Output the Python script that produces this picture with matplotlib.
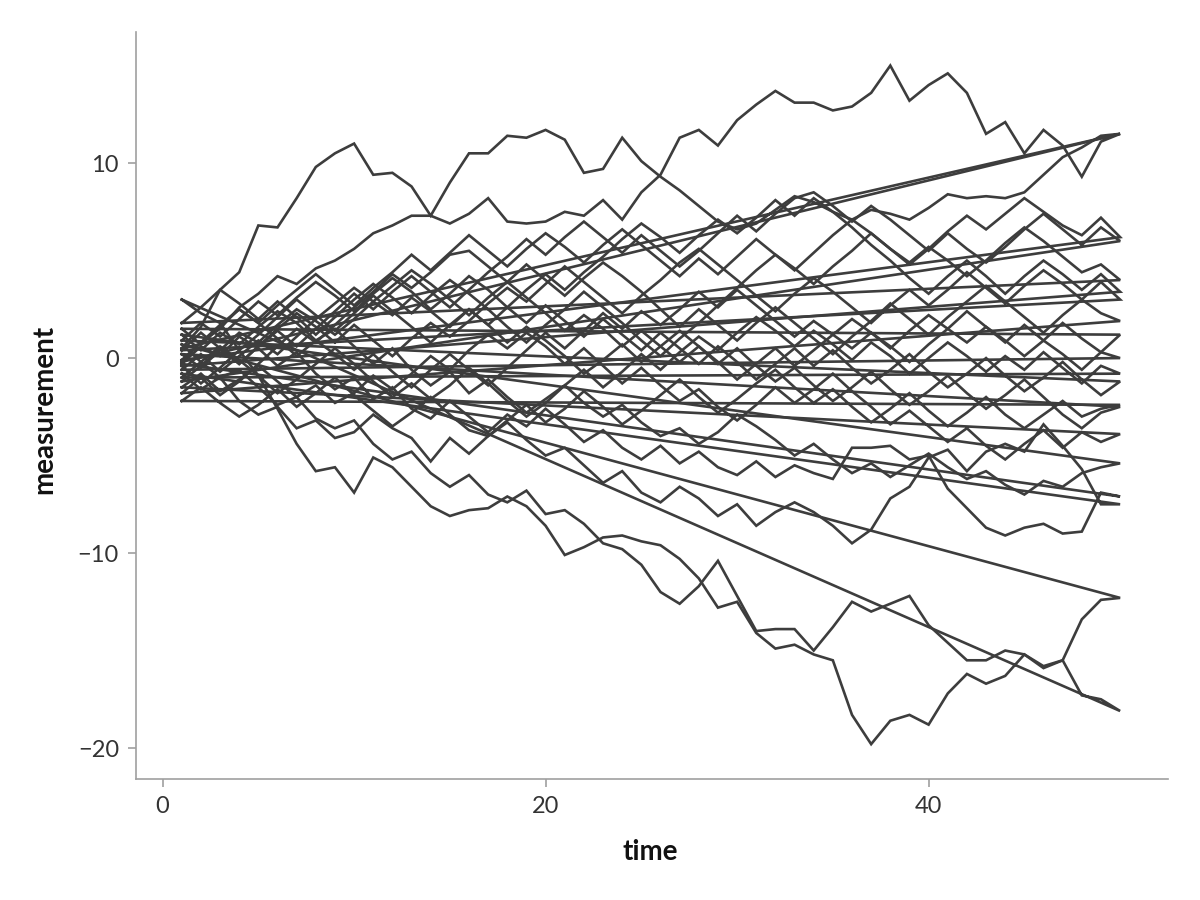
import numpy as np
import matplotlib
matplotlib.use("Agg")
import matplotlib.pyplot as plt

time = np.arange(1, 51)

# one list per walk (t = 1..50)
walk_a = [0.5, 1.6, 3.5, 4.4, 6.8, 6.7, 8.2, 9.8, 10.5, 11.0,
          9.4, 9.5, 8.8, 7.3, 9.0, 10.5, 10.5, 11.4, 11.3, 11.7,
          11.2, 9.5, 9.7, 11.3, 10.1, 9.3, 8.6, 7.8, 7.0, 6.6,
          6.9, 7.6, 8.3, 8.0, 7.5, 7.1, 7.6, 7.4, 7.1, 7.7,
          8.4, 8.2, 8.3, 8.2, 8.5, 9.4, 10.3, 10.8, 11.4, 11.5]
walk_b = [-0.2, 0.8, 1.5, 2.6, 3.3, 4.2, 3.8, 4.6, 5.0, 5.6,
          6.4, 6.8, 7.3, 7.3, 6.9, 7.4, 8.2, 7.0, 6.9, 7.0,
          7.5, 7.3, 8.1, 7.1, 8.5, 9.4, 11.3, 11.7, 10.9, 12.2,
          13.0, 13.7, 13.1, 13.1, 12.7, 12.9, 13.6, 15.0, 13.2, 14.0,
          14.6, 13.6, 11.5, 12.1, 10.5, 11.7, 10.9, 9.3, 11.1, 11.5]
walk_c = [3.0, 2.3, 1.8, 0.4, -0.9, -2.6, -4.4, -5.8, -5.6, -6.9,
          -5.1, -5.6, -6.6, -7.6, -8.1, -7.8, -7.7, -7.1, -7.6, -8.6,
          -10.1, -9.7, -9.2, -9.1, -9.4, -9.6, -10.3, -11.3, -12.8, -12.5,
          -14.1, -14.9, -14.7, -15.2, -15.5, -18.3, -19.8, -18.6, -18.3, -18.8,
          -17.2, -16.2, -16.7, -16.3, -15.2, -15.8, -15.5, -17.3, -17.5, -18.1]
walk_d = [0.7, -0.2, -1.0, -0.6, -1.5, -2.4, -2.0, -3.1, -3.6, -3.2,
          -4.4, -5.2, -4.8, -5.9, -6.6, -6.0, -7.0, -7.4, -6.8, -8.0,
          -7.8, -8.5, -9.5, -9.8, -10.6, -12.0, -12.6, -11.7, -10.4, -12.2,
          -14.0, -13.9, -13.9, -15.0, -13.8, -12.5, -13.0, -12.6, -12.2, -13.7,
          -14.6, -15.5, -15.5, -15.0, -15.2, -15.9, -15.5, -13.4, -12.4, -12.3]
walk_e = [-0.8, -1.6, -1.0, -2.2, -2.9, -2.5, -3.6, -3.2, -4.1, -3.8,
          -2.9, -3.6, -4.1, -5.3, -4.1, -4.9, -4.0, -3.3, -4.2, -5.0,
          -4.6, -5.5, -6.4, -5.8, -6.9, -7.4, -6.6, -7.2, -8.1, -7.5,
          -8.6, -7.9, -7.4, -7.9, -8.6, -9.5, -8.8, -7.2, -6.6, -5.1,
          -4.7, -5.8, -4.8, -4.4, -4.8, -3.4, -4.5, -5.7, -7.5, -7.5]
walk_f = [-0.3, 0.6, 0.1, 1.1, 0.5, -0.4, 0.3, -0.8, -1.6, -1.0,
          -2.1, -1.5, -2.6, -3.1, -2.2, -3.0, -3.8, -2.9, -3.5, -2.6,
          -3.4, -4.3, -3.7, -4.6, -5.2, -4.5, -5.4, -4.8, -5.6, -6.0,
          -5.3, -6.1, -5.5, -5.9, -6.2, -4.6, -4.6, -4.5, -5.2, -5.0,
          -6.7, -7.7, -8.7, -9.1, -8.7, -8.5, -9.0, -8.9, -6.9, -7.1]
walk_g = [1.2, 0.4, 1.3, 0.7, 1.6, 2.4, 1.8, 0.9, 1.5, 0.6,
          -0.3, 0.5, -0.6, -1.4, -0.7, -1.8, -1.1, -2.0, -2.8, -2.1,
          -1.4, -2.3, -3.0, -2.4, -3.3, -4.0, -3.6, -4.4, -3.8, -2.9,
          -3.5, -4.2, -5.0, -4.4, -5.2, -5.9, -5.4, -6.1, -5.5, -4.9,
          -5.6, -6.2, -5.8, -6.5, -7.0, -6.3, -6.6, -5.9, -5.6, -5.4]
walk_h = [-1.5, -0.8, -1.7, -1.1, -0.4, -1.2, -2.0, -1.4, -2.3, -1.8,
          -0.9, -1.6, -0.8, 0.1, -0.6, 0.4, 1.2, 0.5, 1.3, 0.6,
          -0.3, 0.5, -0.4, -1.3, -0.5, -1.4, -2.2, -1.6, -2.5, -3.2,
          -2.4, -1.5, -2.3, -1.6, -0.8, -1.7, -2.5, -3.4, -2.7, -3.5,
          -4.3, -3.6, -4.5, -5.2, -4.4, -3.7, -4.6, -3.8, -4.3, -3.9]
walk_i = [0.2, -0.5, 0.4, 1.3, 0.8, 1.7, 2.5, 1.9, 1.2, 2.0,
          2.9, 2.2, 3.1, 2.4, 1.6, 2.5, 1.7, 0.8, 1.6, 0.9,
          0.1, -0.8, -0.1, 0.7, -0.2, 0.6, 1.4, 0.6, -0.3, 0.5,
          -0.4, -1.2, -0.5, -1.4, -2.2, -1.5, -0.7, -1.6, -2.4, -1.7,
          -0.9, -1.8, -2.6, -1.9, -1.1, -2.0, -2.9, -3.6, -2.8, -2.5]
walk_j = [-2.2, -1.5, -2.3, -3.0, -2.4, -1.6, -2.5, -1.8, -1.0, -1.9,
          -2.7, -3.5, -2.8, -2.0, -2.9, -3.7, -4.0, -3.2, -2.4, -3.3,
          -2.6, -1.7, -2.5, -3.4, -2.7, -1.9, -1.1, -2.0, -2.8, -2.1,
          -1.3, -0.6, -1.5, -2.3, -1.6, -2.5, -3.3, -2.6, -1.8, -2.7,
          -3.5, -2.8, -2.0, -2.9, -3.6, -2.9, -2.2, -3.0, -2.6, -2.4]
walk_k = [0.9, 1.8, 1.1, 2.0, 2.9, 2.2, 3.1, 3.9, 3.2, 2.4,
          3.3, 4.1, 3.4, 2.5, 3.3, 4.2, 3.5, 2.6, 1.8, 2.7,
          1.9, 1.1, 2.0, 1.2, 0.4, 1.3, 0.5, -0.3, 0.6, -0.2,
          -1.1, -0.3, 0.5, -0.4, 0.4, -0.5, -1.3, -0.6, 0.2, -0.7,
          -1.5, -0.8, 0.0, -0.9, -1.7, -1.0, -0.2, -1.1, -1.9, -1.2]
walk_l = [-1.0, -0.2, 0.6, -0.1, -0.9, -1.8, -1.1, -0.3, 0.5, -0.3,
          -1.2, -2.0, -1.3, -2.1, -1.4, -0.5, -1.3, -2.2, -3.0, -2.3,
          -1.4, -0.6, -1.5, -0.7, 0.2, -0.6, 0.3, 1.1, 0.4, 1.3,
          2.1, 1.4, 0.6, 1.4, 0.7, -0.1, 0.8, 0.1, -0.8, 0.0,
          0.8, 0.1, -0.7, 0.1, -0.6, 0.3, -0.5, -1.3, -0.4, -0.8]
walk_m = [-0.6, 0.2, -0.7, 0.1, 0.9, 0.2, 1.1, 2.0, 2.8, 3.6,
          2.9, 3.7, 4.5, 3.8, 3.0, 2.2, 3.1, 3.9, 3.1, 2.3,
          1.4, 2.2, 1.5, 0.6, 1.4, 0.6, -0.2, 0.6, -0.2, -1.1,
          -0.3, 0.5, -0.4, 0.4, 1.2, 0.5, 1.3, 0.6, -0.2, 0.7,
          1.5, 0.8, 1.6, 0.9, 0.1, 0.9, 0.2, -0.6, 0.3, 0.0]
walk_n = [1.5, 0.7, 1.6, 2.5, 1.8, 1.0, 0.1, 0.9, 0.2, -0.6,
          0.2, -0.7, -1.5, -0.6, 0.2, -0.6, -1.4, -0.5, 0.4, 1.3,
          0.5, 1.4, 2.3, 1.5, 2.4, 1.7, 2.5, 3.4, 2.6, 3.5,
          2.7, 1.9, 1.1, 1.9, 1.2, 2.0, 1.3, 0.5, 1.4, 2.2,
          1.5, 2.4, 1.6, 0.8, 1.7, 0.9, 1.8, 1.0, 0.3, 1.2]
walk_o = [-1.8, -1.0, -1.9, -1.2, -0.3, 0.6, 1.5, 0.8, 1.7, 2.6,
          3.4, 4.3, 3.6, 4.4, 5.3, 5.5, 4.7, 3.9, 4.8, 4.0,
          3.2, 4.1, 4.9, 4.2, 3.4, 2.5, 1.6, 2.5, 1.7, 0.9,
          1.8, 2.6, 1.8, 1.0, 0.2, 1.1, 1.9, 2.8, 2.0, 1.2,
          2.1, 2.9, 3.7, 2.9, 2.1, 1.3, 2.2, 3.0, 2.3, 1.9]
walk_p = [0.4, 1.3, 0.5, -0.3, 0.6, 1.5, 2.3, 1.6, 0.8, 1.7,
          0.9, 0.1, 1.0, 1.8, 1.1, 1.9, 2.8, 3.6, 2.9, 3.8,
          4.7, 3.9, 3.1, 2.3, 3.2, 4.0, 4.9, 5.6, 4.8, 4.0,
          3.2, 2.4, 3.3, 4.1, 3.4, 2.6, 1.8, 2.7, 3.5, 2.7,
          3.5, 4.4, 3.6, 2.8, 3.7, 4.5, 3.8, 3.0, 3.9, 3.0]
walk_q = [-0.4, -1.3, -0.5, 0.4, 1.2, 2.1, 3.0, 2.2, 1.4, 2.3,
          3.2, 2.4, 1.6, 0.8, 1.7, 2.5, 1.7, 2.6, 3.5, 4.3,
          3.5, 4.4, 5.2, 6.1, 6.9, 6.2, 5.4, 6.3, 7.1, 6.4,
          7.2, 8.1, 7.3, 8.2, 7.5, 6.7, 5.8, 5.0, 4.1, 3.3,
          4.2, 5.0, 4.2, 3.3, 4.2, 5.0, 4.3, 3.5, 4.3, 3.4]
walk_r = [1.8, 2.6, 3.5, 2.8, 2.0, 2.9, 2.1, 1.2, 2.1, 3.0,
          3.8, 3.1, 2.3, 3.2, 4.0, 3.3, 2.5, 1.6, 0.8, 1.7,
          2.5, 3.4, 2.6, 1.8, 0.9, 0.1, 1.0, 1.8, 2.7, 3.6,
          4.5, 5.3, 4.6, 3.8, 4.7, 5.5, 6.4, 5.6, 4.9, 5.7,
          5.0, 4.2, 5.0, 5.9, 6.7, 6.0, 5.2, 4.4, 4.8, 4.0]
walk_s = [-0.1, 0.8, 1.7, 2.5, 1.8, 2.7, 3.5, 4.3, 3.5, 2.7,
          3.6, 4.4, 5.3, 4.5, 5.4, 6.3, 5.5, 4.7, 5.6, 6.4,
          5.7, 4.9, 5.8, 6.6, 5.8, 5.0, 4.2, 5.1, 4.3, 5.2,
          6.1, 5.3, 4.5, 5.4, 6.3, 7.1, 6.4, 5.6, 4.8, 5.6,
          6.5, 7.3, 6.6, 7.4, 8.2, 7.5, 6.8, 6.3, 7.2, 6.2]
walk_t = [-1.2, -0.4, 0.5, -0.3, 0.6, 1.4, 0.6, 1.5, 2.4, 3.3,
          2.5, 3.4, 4.2, 3.4, 2.6, 3.5, 4.4, 5.2, 6.1, 5.3,
          6.2, 7.0, 6.2, 5.4, 6.3, 5.5, 4.7, 5.5, 6.4, 7.3,
          6.5, 7.4, 8.2, 8.5, 7.8, 7.0, 7.8, 7.1, 6.3, 5.5,
          6.4, 5.6, 4.9, 5.7, 6.6, 7.4, 6.6, 5.8, 6.7, 6.0]

walks = [walk_a, walk_b, walk_c, walk_d, walk_e, walk_f, walk_g, walk_h,
         walk_i, walk_j, walk_k, walk_l, walk_m, walk_n, walk_o, walk_p,
         walk_q, walk_r, walk_s, walk_t]

plt.rcParams["font.family"] = ["Lato", "DejaVu Sans"]

fig = plt.figure(figsize=(12, 9), dpi=100)
ax = fig.add_axes([0.113, 0.1344, 0.86, 0.83])

line_color = "#3d3d3d"
for w in walks:
    # each series path wraps back to its first point
    xs = np.r_[time, time[0]]
    ys = np.r_[w, w[0]]
    ax.plot(xs, ys, color=line_color, linewidth=1.9, solid_joinstyle="miter")

ax.set_xlim(-1.41, 52.48)
ax.set_ylim(-21.59, 16.72)
ax.set_xticks([0, 20, 40])
ax.set_yticks([-20, -10, 0, 10])
ax.set_yticklabels(["\u221220", "\u221210", "0", "10"])

for side in ["top", "right"]:
    ax.spines[side].set_visible(False)
for side in ["left", "bottom"]:
    ax.spines[side].set_color("#a0a0a0")
    ax.spines[side].set_linewidth(1.2)

ax.tick_params(axis="both", colors="#a0a0a0", labelcolor="#333333",
               length=6, width=1.2, labelsize=17, pad=6)

ax.set_xlabel("time", fontsize=20, fontweight="bold", color="#111111")
ax.set_ylabel("measurement", fontsize=20, fontweight="bold", color="#111111")
ax.xaxis.label.set_va("center")
ax.yaxis.label.set_va("center")
ax.xaxis.set_label_coords(0.499, -0.0977)
ax.yaxis.set_label_coords(-0.0882, 0.495)

fig.savefig("out.png", dpi=100)
